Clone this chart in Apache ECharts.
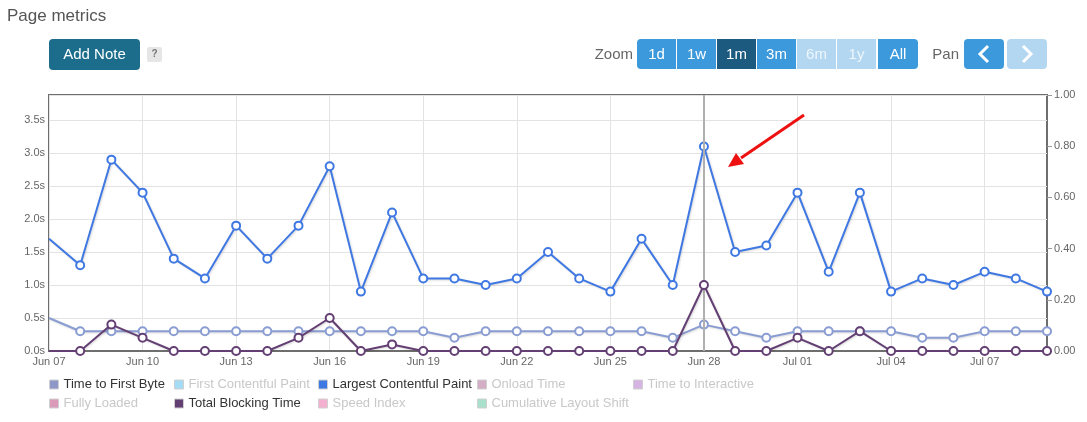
<!DOCTYPE html>
<html>
<head>
<meta charset="utf-8">
<script src="https://cdn.jsdelivr.net/npm/echarts@6/dist/echarts.min.js"></script>
<style>
html,body{margin:0;padding:0;background:#fff;}
#chart{width:1087px;height:422px;}
</style>
</head>
<body>
<div id="chart"></div>
<script>
const categories = ['Jun 07','Jun 08','Jun 09','Jun 10','Jun 11','Jun 12','Jun 13','Jun 14','Jun 15','Jun 16','Jun 17','Jun 18','Jun 19','Jun 20','Jun 21','Jun 22','Jun 23','Jun 24','Jun 25','Jun 26','Jun 27','Jun 28','Jun 29','Jun 30','Jul 01','Jul 02','Jul 03','Jul 04','Jul 05','Jul 06','Jul 07','Jul 08','Jul 09'];
const lcp = [1.7,1.3,2.9,2.4,1.4,1.1,1.9,1.4,1.9,2.8,0.9,2.1,1.1,1.1,1.0,1.1,1.5,1.1,0.9,1.7,1.0,3.1,1.5,1.6,2.4,1.2,2.4,0.9,1.1,1.0,1.2,1.1,0.9];
const ttfb = [0.5,0.3,0.3,0.3,0.3,0.3,0.3,0.3,0.3,0.3,0.3,0.3,0.3,0.2,0.3,0.3,0.3,0.3,0.3,0.3,0.2,0.4,0.3,0.2,0.3,0.3,0.3,0.3,0.2,0.2,0.3,0.3,0.3];
const tbt = [0,0,0.4,0.2,0,0,0,0,0.2,0.5,0,0.1,0,0,0,0,0,0,0,0,0,1.0,0,0,0.2,0,0.3,0,0,0,0,0,0];
const leftTicks = [0,0.5,1,1.5,2,2.5,3,3.5];
const rightTicks = [0,0.2,0.4,0.6,0.8,1.0];
const markedDay = 'Jun 28';
const zoomButtons = ['1d','1w','1m','3m','6m','1y','All'];
const legendColumns = [
  ['Time to First Byte','Fully Loaded'],
  ['First Contentful Paint','Total Blocking Time'],
  ['Largest Contentful Paint','Speed Index'],
  ['Onload Time','Cumulative Layout Shift'],
  ['Time to Interactive']
];
const seriesColors = {
  'Time to First Byte':'#8d98c8',
  'First Contentful Paint':'#a6dcf3',
  'Largest Contentful Paint':'#3f78e2',
  'Onload Time':'#d4aec4',
  'Time to Interactive':'#d7b3e3',
  'Fully Loaded':'#d99bb8',
  'Total Blocking Time':'#633f73',
  'Speed Index':'#f4b0d0',
  'Cumulative Layout Shift':'#a8e0cb'
};
const activeSeries = {'Time to First Byte':ttfb,'Largest Contentful Paint':lcp,'Total Blocking Time':tbt};

const FONT = '"Liberation Sans", Arial, sans-serif';
const chart = echarts.init(document.getElementById('chart'));

function lineSeries(name, data, lineColor, z){
  return {
    name, type:'line', data, yAxisIndex:0, z,
    symbol:'circle',
    symbolSize:(v,p)=> p.dataIndex===0 ? 0 : 8,
    showAllSymbol:true,
    itemStyle:{color:'#fff', borderColor:lineColor, borderWidth:2},
    lineStyle:{color:lineColor, width:2, shadowColor:'rgba(0,0,0,0.15)', shadowBlur:2, shadowOffsetY:1, shadowOffsetX:1},
    emphasis:{disabled:true},
    animation:false
  };
}

const series = [];
const allNames = Object.keys(seriesColors);
allNames.forEach(n=>{
  if(activeSeries[n]){
    const z = n==='Largest Contentful Paint'?4:(n==='Total Blocking Time'?5:3);
    const col = n==='Time to First Byte' ? '#8a9dd2' : seriesColors[n];
    series.push(lineSeries(n, activeSeries[n], col, z));
  } else {
    series.push({name:n, type:'line', data:[], itemStyle:{color:seriesColors[n]}});
  }
});
// Jun 28 plot line
series[allNames.indexOf('Largest Contentful Paint')].markLine = {
  silent:true, symbol:'none', label:{show:false},
  lineStyle:{color:'#b0b0b0', width:2, type:'solid'},
  data:[{xAxis:markedDay}], animation:false
};

const legendLefts = [49,174,318,477,633];
const legends = legendColumns.map((col,i)=>({
  orient:'vertical', left:legendLefts[i], top:378, itemGap:6, padding:0,
  itemWidth:9, itemHeight:9, icon:'rect', selectedMode:false,
  textStyle:{fontFamily:FONT, fontSize:13, color:'#333'},
  data:col.map(n=>({
    name:n,
    itemStyle:{color:seriesColors[n], borderColor:'#d0d0d0', borderWidth:1},
    textStyle:{color: activeSeries[n] ? '#333' : '#c8c8c8'}
  }))
}));

// UI graphics (title, buttons, annotation arrow)
const graphics = [];
graphics.push({type:'text', x:7, y:16, style:{text:'Page metrics', font:'17px '+FONT, fill:'#555', verticalAlign:'middle'}});
graphics.push({type:'rect', shape:{x:49,y:39,width:91,height:31,r:4}, style:{fill:'#1b6d8b'}});
graphics.push({type:'text', x:94.5, y:54.5, style:{text:'Add Note', font:'15px '+FONT, fill:'#fff', align:'center', verticalAlign:'middle'}});
graphics.push({type:'rect', shape:{x:147,y:47,width:15,height:15,r:2}, style:{fill:'#e6e6e6'}});
graphics.push({type:'text', x:154.5, y:54.5, style:{text:'?', font:'bold 10px '+FONT, fill:'#777', align:'center', verticalAlign:'middle'}});
graphics.push({type:'text', x:633, y:55, style:{text:'Zoom', font:'15px '+FONT, fill:'#666', align:'right', verticalAlign:'middle'}});
const bx0 = 637, bw = 40;
zoomButtons.forEach((b,i)=>{
  const x = bx0 + i*bw + (i===6?1:0);
  const w = bw - 1 + (i===6?1:0);
  let fill = '#3b99dc';
  if(b==='1m') fill = '#1d5a80';
  if(b==='6m' || b==='1y') fill = '#b3d7f1';
  const r = i===0 ? [4,0,0,4] : (i===6 ? [0,4,4,0] : 0);
  graphics.push({type:'rect', shape:{x:x,y:39,width:w,height:30,r:r}, style:{fill}});
  graphics.push({type:'text', x:x+w/2, y:54.5, style:{text:b, font:'15px '+FONT, fill:(b==='6m'||b==='1y')?'#eef6fc':'#fff', align:'center', verticalAlign:'middle'}});
});
graphics.push({type:'text', x:959, y:55, style:{text:'Pan', font:'15px '+FONT, fill:'#666', align:'right', verticalAlign:'middle'}});
graphics.push({type:'rect', shape:{x:964,y:39,width:40,height:30,r:4}, style:{fill:'#3b99dc'}});
graphics.push({type:'polyline', shape:{points:[[988,46],[980,54],[988,62]]}, style:{stroke:'#fff', lineWidth:3, fill:null}});
graphics.push({type:'rect', shape:{x:1007,y:39,width:40,height:30,r:4}, style:{fill:'#b3d7f1'}});
graphics.push({type:'polyline', shape:{points:[[1023,46],[1031,54],[1023,62]]}, style:{stroke:'#fff', lineWidth:3, fill:null}});
// red arrow annotation
graphics.push({type:'line', z:100, shape:{x1:804,y1:115,x2:741,y2:158}, style:{stroke:'#ee1111', lineWidth:3}});
graphics.push({type:'polygon', z:100, shape:{points:[[728,167],[736,153],[744,164]]}, style:{fill:'#ee1111'}});

chart.setOption({
  animation:false,
  backgroundColor:'#fff',
  grid:{left:49, right:40, top:95, bottom:71, show:true, borderColor:'#6e6e6e', borderWidth:2, backgroundColor:'transparent'},
  legend:legends,
  xAxis:{
    type:'category', data:categories, boundaryGap:false,
    axisLine:{show:true, lineStyle:{color:'#6e6e6e', width:2}},
    axisTick:{show:false},
    axisLabel:{interval:2, color:'#666', fontFamily:FONT, fontSize:11, margin:5},
    splitLine:{show:true, interval:2, lineStyle:{color:'#e3e3e3', width:1}}
  },
  yAxis:[{
    type:'value', min:0, max:3.88, interval:0.5, position:'left',
    axisLine:{show:false}, axisTick:{show:false},
    axisLabel:{showMaxLabel:false, color:'#666', fontFamily:FONT, fontSize:11, margin:4,
      formatter:v=> leftTicks.includes(+v.toFixed(1)) ? v.toFixed(1)+'s' : ''},
    splitLine:{show:true, lineStyle:{color:'#e3e3e3', width:1}}
  },{
    type:'value', min:0, max:1, interval:0.2, position:'right',
    axisLine:{show:false},
    axisTick:{show:true, length:5, lineStyle:{color:'#999'}},
    axisLabel:{color:'#666', fontFamily:FONT, fontSize:11, margin:7,
      formatter:v=> rightTicks.some(t=>Math.abs(t-v)<1e-9) ? v.toFixed(2) : ''},
    splitLine:{show:false}
  }],
  series,
  graphic:graphics
});
</script>
</body>
</html>
